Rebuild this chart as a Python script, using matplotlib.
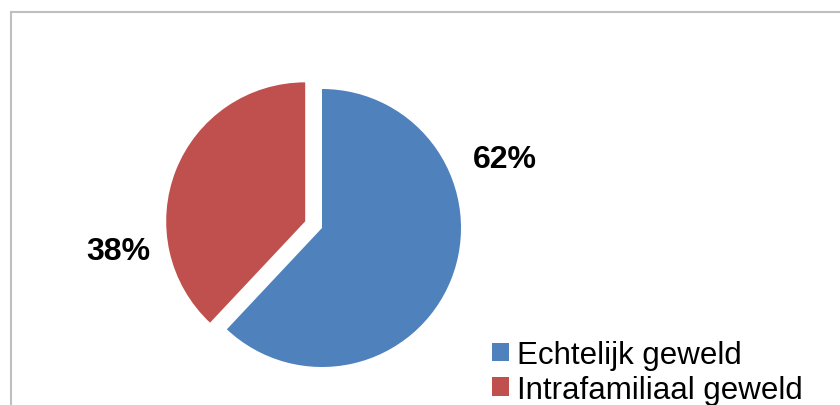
import matplotlib
matplotlib.use("Agg")
import matplotlib.pyplot as plt
from matplotlib.lines import Line2D

plt.rcParams['font.family'] = ['Liberation Sans', 'DejaVu Sans']

# data
categories = ['Echtelijk geweld', 'Intrafamiliaal geweld']
shares = [62, 38]
colors = ['#4F81BD', '#C0504D']

W, H = 840, 406
R = 139
fig = plt.figure(figsize=(W / 100, H / 100), dpi=100)
ax = fig.add_axes([0, 0, 1, 1])
ax.set_xlim(0, W)
ax.set_ylim(0, H)
ax.set_aspect('equal')
ax.axis('off')

# explode is in data units here, so scale by the radius
wedges, _ = ax.pie(shares, colors=colors, explode=[0, 0.13 * R], startangle=90,
                   counterclock=False, center=(322, H - 229), radius=R,
                   wedgeprops=dict(linewidth=0))
ax.set_xlim(0, W)
ax.set_ylim(0, H)

# percentage labels
label_pos = [(505, H - 160), (118, H - 252)]
total = sum(shares)
for v, (x, y) in zip(shares, label_pos):
    ax.text(x, y, '%d%%' % round(100 * v / total), ha='center', va='center',
            fontsize=23, fontweight='bold', color='black')

# chart frame (left and top edges visible)
fig.add_artist(Line2D([11 / W, 11 / W], [0, 1 - 13 / H], transform=fig.transFigure,
                      color='#BFBFBF', linewidth=1.5))
fig.add_artist(Line2D([11 / W, 1], [1 - 13 / H, 1 - 13 / H], transform=fig.transFigure,
                      color='#BFBFBF', linewidth=1.5))

leg = fig.legend(wedges, categories, loc='upper left',
                 bbox_to_anchor=(492 / W, 1 - 341 / H), frameon=False,
                 fontsize=22.5, handlelength=0.55, handleheight=0.55,
                 handletextpad=0.25, labelspacing=0.15, borderpad=0,
                 borderaxespad=0)

fig.savefig('out.png', dpi=100)
